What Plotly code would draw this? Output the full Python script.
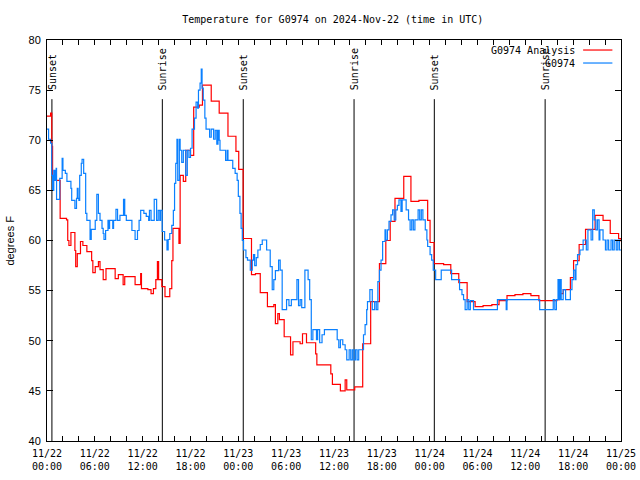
import pandas as pd
import plotly.graph_objects as go

# ---------------- data (hours after 2024-11-22 00:00 UTC, degrees F) ----------------
base = pd.Timestamp("2024-11-22 00:00")

analysis_hours = [0.0, 0.45, 0.6, 0.7, 1.65, 2.45, 2.6, 2.75, 3.0, 3.5, 3.6, 3.8, 4.2, 4.5, 5.0,
                  5.6, 5.75, 6.05, 6.45, 6.65, 7.05, 7.4, 8.55, 8.95, 9.55, 9.75, 11.05, 11.75,
                  11.85, 12.65, 13.05, 13.35, 13.65, 13.85, 14.0, 14.4, 14.8, 15.4, 15.65, 15.8,
                  16.55, 16.7, 17.1, 17.4, 18.0, 18.4, 19.1, 19.5, 20.6, 21.6, 22.7, 23.7, 24.05,
                  24.6, 25.65, 26.15, 26.75, 27.65, 28.45, 28.65, 28.95, 29.15, 29.75, 30.55,
                  30.85, 31.75, 32.05, 32.35, 32.55, 33.7, 33.85, 35.6, 35.8, 36.8, 37.4, 37.6,
                  38.6, 39.6, 40.6, 41.7, 42.5, 43.05, 43.65, 44.75, 45.65, 46.65, 47.75, 48.05,
                  48.55, 49.75, 50.65, 51.65, 52.7, 53.7, 54.7, 55.8, 56.7, 57.7, 58.7, 59.7,
                  60.7, 61.7, 63.95, 64.25, 64.75, 65.65, 66.05, 66.75, 67.55, 68.75, 69.75,
                  70.65, 71.7, 72.0]
analysis_temp = [72.4, 72.7, 69.4, 66.0, 62.2, 62.05, 60.0, 59.5, 60.8, 59.0, 57.4, 58.7, 59.9,
                 59.5, 58.9, 58.0, 56.8, 57.4, 57.9, 57.1, 56.1, 57.2, 56.2, 56.6, 55.6, 56.4,
                 55.6, 56.7, 55.2, 55.1, 54.7, 55.2, 56.1, 57.9, 56.1, 55.4, 54.4, 55.2, 58.0,
                 61.2, 59.7, 66.5, 65.9, 69.0, 68.5, 73.3, 73.5, 75.5, 73.9, 72.7, 70.4, 68.9,
                 67.1, 60.2, 56.6, 56.7, 54.8, 53.4, 53.6, 51.7, 52.7, 52.1, 50.4, 48.6, 49.9,
                 49.7, 50.7, 50.7, 49.8, 48.7, 47.6, 46.7, 45.65, 45.0, 46.1, 45.1, 45.4, 49.7,
                 53.9, 57.7, 60.0, 61.9, 64.2, 66.4, 63.9, 64.0, 62.0, 59.8, 57.7, 57.6, 56.7,
                 55.8, 53.9, 53.4, 53.5, 53.6, 54.0, 54.5, 54.6, 54.7, 54.5, 54.0, 54.1, 54.7,
                 55.1, 56.3, 58.0, 59.6, 61.1, 62.5, 62.0, 60.7, 60.2, 59.9, 59.9]

obs_hours = [0.0, 0.2, 0.45, 0.6, 0.7, 0.85, 1.0, 1.15, 1.2, 1.6, 1.9, 2.0, 2.3, 2.5, 3.0, 3.1,
             3.5, 3.7, 3.8, 3.9, 4.0, 4.1, 4.3, 4.4, 4.6, 4.85, 5.0, 5.4, 5.55, 6.05, 6.25, 6.45,
             6.65, 6.9, 7.05, 7.15, 7.35, 7.65, 7.75, 7.85, 8.25, 8.35, 8.65, 8.85, 9.15, 9.6,
             9.75, 9.95, 10.65, 11.05, 11.35, 11.55, 11.75, 12.15, 12.45, 12.75, 12.85, 13.05,
             13.45, 13.75, 13.95, 14.15, 14.25, 14.45, 14.75, 15.05, 15.2, 15.4, 15.65, 15.85,
             16.0, 16.15, 16.3, 16.4, 16.6, 16.7, 16.9, 17.1, 17.4, 17.6, 17.8, 18.0, 18.2, 18.5,
             18.7, 18.9, 19.0, 19.2, 19.35, 19.45, 19.6, 19.8, 19.95, 20.4, 20.6, 20.9, 21.1,
             21.3, 21.45, 21.6, 21.7, 22.4, 22.6, 22.7, 23.3, 23.6, 23.85, 24.0, 24.2, 24.35,
             24.5, 24.65, 24.95, 25.15, 25.5, 25.75, 25.9, 26.05, 26.25, 26.45, 26.75, 27.0,
             27.55, 28.0, 28.25, 28.45, 28.65, 29.05, 29.25, 29.5, 30.05, 30.35, 30.65, 31.35,
             31.55, 31.75, 31.95, 32.35, 32.75, 32.95, 33.15, 33.35, 33.8, 33.95, 34.2, 34.5,
             34.8, 36.4, 36.6, 36.8, 37.1, 37.4, 37.6, 37.9, 38.1, 38.3, 38.5, 38.7, 38.9, 39.1,
             39.7, 39.9, 40.1, 40.2, 40.5, 40.8, 41.1, 41.3, 41.5, 41.7, 41.9, 42.1, 42.4, 42.5,
             42.7, 42.9, 43.15, 43.35, 43.55, 43.75, 43.95, 44.15, 44.4, 44.55, 45.05, 45.35,
             45.55, 45.75, 45.95, 46.15, 46.55, 46.75, 46.95, 47.15, 47.45, 47.65, 47.75, 48.05,
             48.25, 48.45, 48.75, 49.45, 50.75, 51.75, 52.05, 52.25, 52.45, 52.7, 52.9, 53.1,
             53.5, 56.5, 57.6, 57.7, 61.8, 63.5, 63.7, 63.9, 64.1, 64.2, 64.35, 64.5, 64.75,
             65.05, 65.65, 65.85, 66.05, 66.25, 66.35, 66.55, 66.85, 67.25, 67.65, 67.85, 68.25,
             68.45, 68.65, 68.85, 69.05, 69.25, 69.35, 69.75, 70.05, 70.25, 70.45, 70.75, 70.95,
             71.15, 71.4, 71.6, 71.8, 72.0]
obs_temp = [71.1, 70.1, 69.7, 66.5, 65.0, 67.0, 66.0, 67.2, 64.1, 66.2, 68.2, 67.0, 66.7, 65.9,
            65.2, 64.0, 63.2, 64.2, 65.2, 64.2, 64.0, 66.5, 67.7, 68.1, 66.7, 62.7, 62.0, 60.1,
            61.1, 62.0, 64.6, 62.7, 62.0, 61.2, 60.7, 60.1, 61.0, 62.0, 61.2, 62.0, 61.2, 62.0,
            63.1, 62.0, 62.5, 64.1, 62.5, 62.0, 61.0, 60.1, 61.0, 62.0, 63.0, 62.7, 62.4, 62.0,
            63.0, 62.0, 64.1, 62.0, 63.0, 62.0, 63.0, 60.9, 60.05, 59.05, 60.1, 60.7, 61.5, 63.0,
            65.7, 67.7, 70.1, 66.0, 70.1, 69.0, 67.8, 69.0, 66.5, 69.0, 68.3, 69.2, 71.1, 72.2,
            73.8, 73.2, 75.0, 75.7, 77.1, 75.2, 74.0, 72.2, 71.1, 70.3, 71.1, 70.1, 71.0, 69.6,
            71.0, 70.0, 69.0, 68.0, 69.0, 68.0, 67.2, 66.7, 66.0, 64.4, 62.7, 61.2, 60.0, 59.05,
            58.3, 58.05, 57.05, 58.05, 58.6, 57.5, 58.3, 59.05, 59.6, 60.05, 59.05, 57.4, 55.1,
            56.1, 57.0, 58.05, 57.05, 53.1, 54.1, 53.5, 54.1, 56.1, 53.5, 54.1, 53.3, 57.05, 56.1,
            54.1, 50.1, 51.1, 50.1, 51.1, 49.8, 50.6, 51.1, 50.1, 49.3, 50.1, 49.6, 49.1, 48.1,
            49.1, 48.1, 49.1, 48.1, 49.1, 48.1, 49.1, 50.6, 51.6, 53.1, 53.9, 55.1, 53.1, 53.9,
            53.1, 55.9, 57.05, 58.05, 59.9, 61.05, 60.05, 61.05, 61.9, 62.55, 63.05, 62.05, 63.05,
            63.5, 64.05, 62.9, 64.05, 63.05, 62.05, 61.05, 62.05, 61.05, 62.05, 63.05, 62.05,
            63.05, 62.05, 61.05, 60.05, 59.4, 58.6, 58.05, 57.05, 56.1, 57.05, 56.1, 55.1, 54.6,
            54.1, 53.1, 54.1, 53.1, 54.0, 53.1, 54.1, 53.1, 54.1, 53.1, 54.1, 53.1, 54.1, 56.1,
            54.1, 56.1, 54.1, 55.1, 54.1, 55.1, 56.1, 57.05, 56.1, 57.6, 58.6, 59.05, 60.05,
            59.05, 61.05, 60.05, 63.05, 62.05, 61.05, 62.05, 60.05, 61.05, 60.05, 59.05, 60.05,
            59.05, 60.05, 59.05, 60.05, 59.05, 60.05, 59.05, 59.05]

sun_times = ["2024-11-22 00:37", "2024-11-22 14:28", "2024-11-23 00:37",
             "2024-11-23 14:31", "2024-11-24 00:35", "2024-11-24 14:29"]
sun_labels = ["Sunset", "Sunrise", "Sunset", "Sunrise", "Sunset", "Sunrise"]
sun_line_top = 74.1
sun_label_base = 74.8

tick_times = ["2024-11-22 00:00", "2024-11-22 06:00", "2024-11-22 12:00", "2024-11-22 18:00",
              "2024-11-23 00:00", "2024-11-23 06:00", "2024-11-23 12:00", "2024-11-23 18:00",
              "2024-11-24 00:00", "2024-11-24 06:00", "2024-11-24 12:00", "2024-11-24 18:00",
              "2024-11-25 00:00"]
tick_labels = ["11/22<br>00:00", "11/22<br>06:00", "11/22<br>12:00", "11/22<br>18:00",
               "11/23<br>00:00", "11/23<br>06:00", "11/23<br>12:00", "11/23<br>18:00",
               "11/24<br>00:00", "11/24<br>06:00", "11/24<br>12:00", "11/24<br>18:00",
               "11/25<br>00:00"]

series_names = ["G0974 Analysis", "G0974"]
series_colors = ["#ff0000", "#0a80ff"]

# ---------------- figure ----------------
mono = "DejaVu Sans Mono"
sans = "Liberation Sans"

ana_x = [base + pd.Timedelta(hours=h) for h in analysis_hours]
obs_x = [base + pd.Timedelta(hours=h) for h in obs_hours]

fig = go.Figure()

# sunrise / sunset vertical lines
sx, sy = [], []
for t in sun_times:
    sx += [t, t, None]
    sy += [40, sun_line_top, None]
fig.add_trace(go.Scatter(x=sx, y=sy, mode="lines", line=dict(color="black", width=1),
                         showlegend=False, hoverinfo="skip"))

fig.add_trace(go.Scatter(x=ana_x, y=analysis_temp, mode="lines", name=series_names[0],
                         line=dict(color=series_colors[0], width=1.2, shape="hv"),
                         showlegend=False))
fig.add_trace(go.Scatter(x=obs_x, y=obs_temp, mode="lines", name=series_names[1],
                         line=dict(color=series_colors[1], width=1.2, shape="hv"),
                         showlegend=False))

for t, lab in zip(sun_times, sun_labels):
    fig.add_annotation(x=t, y=sun_label_base, xref="x", yref="y", text=lab, textangle=-90,
                       showarrow=False, xanchor="center", yanchor="bottom",
                       font=dict(family=mono, size=10, color="black"))

# legend drawn gnuplot-style: text then line sample
legend_rows = [0.975, 0.9426]
for name, col, yy in zip(series_names, series_colors, legend_rows):
    fig.add_annotation(x=0.923, y=yy, xref="paper", yref="paper", text=name, showarrow=False,
                       xanchor="right", yanchor="middle",
                       font=dict(family=mono, size=10, color="black"))
    fig.add_shape(type="line", xref="paper", yref="paper", x0=0.934, x1=0.985, y0=yy, y1=yy,
                  line=dict(color=col, width=1.2))

fig.add_annotation(x=-0.066, y=0.5, xref="paper", yref="paper", text="degrees F",
                   textangle=-90, showarrow=False, xanchor="center", yanchor="middle",
                   font=dict(family=sans, size=11, color="black"))

fig.update_layout(
    width=640, height=480,
    margin=dict(l=47, r=19, t=40, b=39, autoexpand=False),
    paper_bgcolor="white", plot_bgcolor="white",
    title=dict(text="Temperature for G0974 on 2024-Nov-22 (time in UTC)",
               x=0.52, xanchor="center", y=0.96, yanchor="middle",
               font=dict(family=mono, size=10, color="black")),
    showlegend=False,
)
fig.update_xaxes(type="date", range=["2024-11-22 00:00", "2024-11-25 00:00"],
                 automargin=False,
                 tickvals=tick_times, ticktext=tick_labels, ticks="inside", ticklen=5,
                 tickcolor="black", showline=True, linecolor="black", linewidth=1,
                 mirror="ticks", showgrid=False, zeroline=False, ticklabelstandoff=3,
                 tickfont=dict(family=mono, size=10, color="black"),
                 minor=dict(dtick=7200000, tick0="2024-11-22", ticks="inside", ticklen=5,
                            tickcolor="black", showgrid=False))
fig.update_yaxes(range=[40, 80], dtick=5, ticks="inside", ticklen=6, tickcolor="black",
                 automargin=False, ticklabelstandoff=3,
                 showline=True, linecolor="black", linewidth=1, mirror="ticks",
                 showgrid=False, zeroline=False,
                 tickfont=dict(family=sans, size=11, color="black"))

fig.write_html("out.html", config={"displayModeBar": False},
               post_script="document.body.style.margin='0';")
